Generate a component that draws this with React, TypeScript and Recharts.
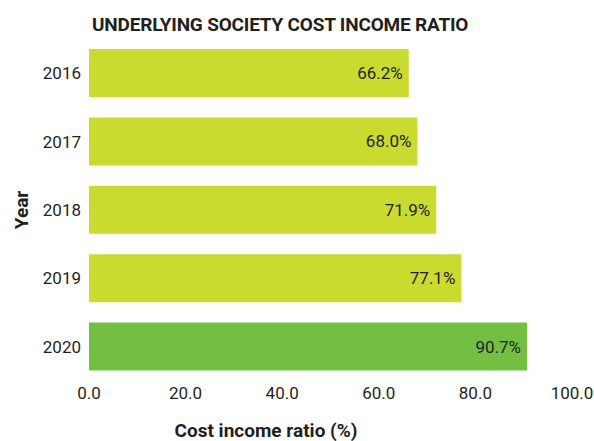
import { BarChart, Bar, XAxis, YAxis, Cell, LabelList, Label } from "recharts";

const years = ["2016", "2017", "2018", "2019", "2020"];
const costIncomeRatio = [66.2, 68.0, 71.9, 77.1, 90.7];
const barColors = ["#cadb2f", "#cadb2f", "#cadb2f", "#cadb2f", "#72bf44"];
const xTicks = [0, 20, 40, 60, 80, 100];

const data = years.map((year, i) => ({ year, value: costIncomeRatio[i] }));

const FONT = "Roboto, sans-serif";
const INK = "#231f20";

export default function App() {
  return (
    <div style={{ position: "absolute", left: 0, top: 0, width: 594, height: 441, background: "#fff", fontFamily: FONT }}>
      <div
        style={{
          position: "absolute",
          left: 92,
          top: 13,
          fontSize: 19,
          fontWeight: 700,
          color: INK,
          letterSpacing: -0.2,
        }}
      >
        UNDERLYING SOCIETY COST INCOME RATIO
      </div>
      <BarChart
        width={594}
        height={441}
        data={data}
        layout="vertical"
        margin={{ top: 39, right: 22, bottom: 30, left: 11 }}
        barSize={48}
      >
        <XAxis
          type="number"
          domain={[0, 100]}
          ticks={xTicks}
          tickFormatter={(v: number) => v.toFixed(1)}
          axisLine={false}
          tickLine={false}
          tick={{ fill: INK, fontSize: 17, fontFamily: FONT }}
          tickMargin={0}
          height={30}
        >
          <Label
            content={() => (
              <text x={266} y={437} textAnchor="middle" fill={INK} fontSize={19} fontWeight={700} fontFamily={FONT}>
                Cost income ratio (%)
              </text>
            )}
          />
        </XAxis>
        <YAxis
          type="category"
          dataKey="year"
          width={78}
          axisLine={false}
          tickLine={false}
          tick={{ fill: INK, fontSize: 17, fontFamily: FONT }}
          tickMargin={2}
        >
          <Label
            content={() => (
              <text
                x={28}
                y={210}
                textAnchor="middle"
                fill={INK}
                fontSize={19}
                fontWeight={700}
                fontFamily={FONT}
                transform="rotate(-90, 28, 210)"
              >
                Year
              </text>
            )}
          />
        </YAxis>
        <Bar dataKey="value" isAnimationActive={false}>
          {data.map((d, i) => (
            <Cell key={d.year} fill={barColors[i]} />
          ))}
          <LabelList
            dataKey="value"
            position="insideRight"
            offset={6}
            formatter={(v: number) => `${v.toFixed(1)}%`}
            style={{ fill: INK, fontSize: 17, fontFamily: FONT }}
          />
        </Bar>
      </BarChart>
    </div>
  );
}
